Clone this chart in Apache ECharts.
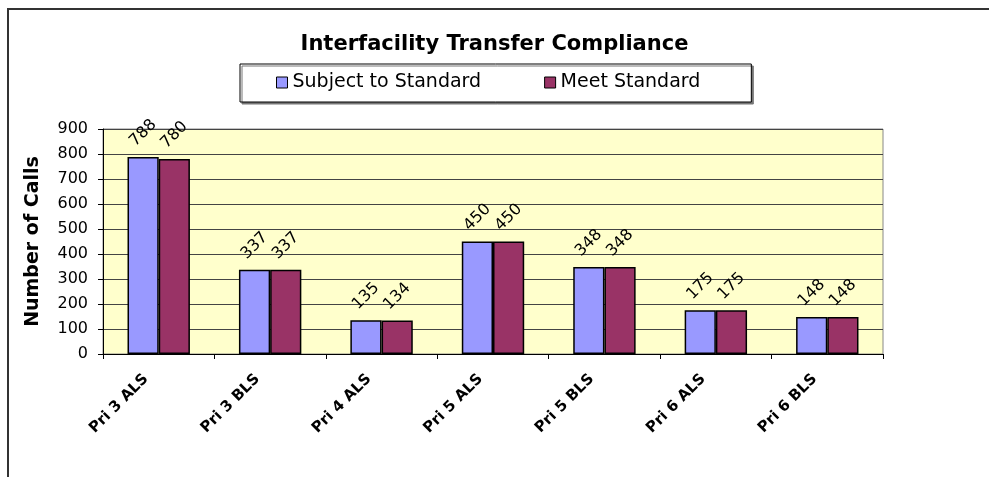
<!DOCTYPE html>
<html>
<head>
<meta charset="utf-8">
<script src="https://cdn.jsdelivr.net/npm/echarts@6/dist/echarts.min.js"></script>
<style>
  html, body { margin: 0; padding: 0; background: #fff; }
  #chart { width: 989px; height: 477px; }
</style>
</head>
<body>
<div id="chart"></div>
<script>
// chart data
var categories = ['Pri 3 ALS', 'Pri 3 BLS', 'Pri 4 ALS', 'Pri 5 ALS', 'Pri 5 BLS', 'Pri 6 ALS', 'Pri 6 BLS'];
var subjectToStandard = [788, 337, 135, 450, 348, 175, 148];
var meetStandard = [780, 337, 134, 450, 348, 175, 148];
var seriesNames = ['Subject to Standard', 'Meet Standard'];

var FONT = 'DejaVu Sans, Liberation Sans, Arial, sans-serif';

var chart = echarts.init(document.getElementById('chart'));

// rotated value label above each bar
var valueLabel = {
  show: true,
  position: 'top',
  distance: 24,
  rotate: 45,
  align: 'center',
  verticalAlign: 'middle',
  color: '#000',
  fontFamily: FONT,
  fontSize: 16
};

var option = {
  animation: false,
  backgroundColor: '#fff',
  title: {
    text: 'Interfacility Transfer Compliance',
    left: 'center',
    top: 29,
    textStyle: { fontFamily: FONT, fontSize: 21, fontWeight: 'bold', color: '#000' }
  },
  legend: {
    data: seriesNames,
    top: 64,
    left: 240,
    padding: [9, 51, 10, 36],
    itemGap: 63,
    icon: 'rect',
    itemWidth: 11,
    itemHeight: 11,
    itemStyle: { borderColor: '#000', borderWidth: 1 },
    borderColor: '#000',
    borderWidth: 1,
    backgroundColor: '#fff',
    shadowColor: '#777',
    shadowOffsetX: 2,
    shadowOffsetY: 2,
    textStyle: { fontFamily: FONT, fontSize: 19, color: '#000' }
  },
  graphic: [{
    type: 'rect',
    shape: { x: 8, y: 9, width: 1000, height: 500 },
    style: { fill: 'none', stroke: '#333', lineWidth: 2 },
    silent: true
  }],
  grid: {
    left: 103,
    right: 106,
    top: 129,
    bottom: 123,
    show: true,
    backgroundColor: '#FFFFCC',
    borderColor: '#888',
    borderWidth: 1
  },
  xAxis: {
    type: 'category',
    data: categories,
    axisLine: { lineStyle: { color: '#000', width: 1 } },
    axisTick: { show: true, length: 5, lineStyle: { color: '#000' } },
    axisLabel: {
      rotate: 45,
      margin: 10,
      padding: [0, 18, 0, 0],
      fontFamily: FONT,
      fontSize: 15,
      fontWeight: 'bold',
      color: '#000'
    }
  },
  yAxis: {
    type: 'value',
    min: 0,
    max: 900,
    interval: 100,
    name: 'Number of Calls',
    nameLocation: 'middle',
    nameGap: 60,
    nameTextStyle: { fontFamily: FONT, fontSize: 19, fontWeight: 'bold', color: '#000' },
    axisLine: { show: true, lineStyle: { color: '#000', width: 1 } },
    axisTick: { show: true, length: 5, lineStyle: { color: '#000' } },
    axisLabel: { fontFamily: FONT, fontSize: 16, color: '#000', margin: 15 },
    splitLine: { show: true, lineStyle: { color: '#444', width: 1 } }
  },
  series: [
    {
      name: seriesNames[0],
      type: 'bar',
      data: subjectToStandard,
      barGap: '0%',
      barCategoryGap: '44%',
      itemStyle: { color: '#9999FF', borderColor: '#000', borderWidth: 1.5 },
      label: valueLabel
    },
    {
      name: seriesNames[1],
      type: 'bar',
      data: meetStandard,
      itemStyle: { color: '#993366', borderColor: '#000', borderWidth: 1.5 },
      label: valueLabel
    }
  ]
};

chart.setOption(option);
</script>
</body>
</html>
